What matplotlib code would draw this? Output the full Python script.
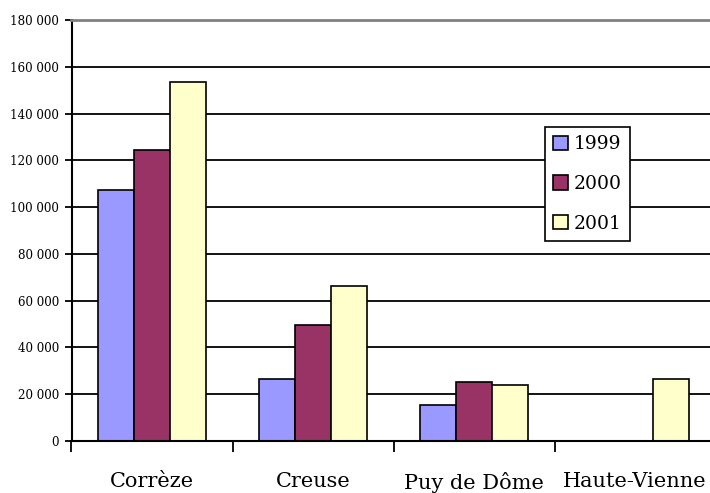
import matplotlib
matplotlib.use('Agg')
import matplotlib.pyplot as plt
import numpy as np

departements = ['Corrèze', 'Creuse', 'Puy de Dôme', 'Haute-Vienne']
annees = ['1999', '2000', '2001']
v1999 = [107300, 26700, 15200, 0]
v2000 = [124500, 49800, 25400, 0]
v2001 = [153600, 66100, 24000, 26500]
couleurs = ['#9999FF', '#993366', '#FFFFCC']

plt.rcParams['font.family'] = ['DejaVu Serif']

fig = plt.figure(figsize=(7.1, 4.93), dpi=100)
ax = fig.add_axes([71.5 / 710, 52 / 493, 644 / 710, 421 / 493])

x = np.arange(len(departements))
w = 0.224
for k, (vals, c, lab) in enumerate(zip([v1999, v2000, v2001], couleurs, annees)):
    vals = np.array(vals, dtype=float)
    keep = vals > 0
    ax.bar(x[keep] + (k - 1) * w, vals[keep], width=w, color=c,
           edgecolor='black', linewidth=1.2, label=lab, zorder=2)

ax.set_xlim(-0.5, 3.5)
ax.set_ylim(0, 180000)
ax.set_yticks(np.arange(0, 180001, 20000))
ax.set_yticklabels([f'{v:,}'.replace(',', ' ') for v in range(0, 180001, 20000)],
                   fontsize=8.6)
ax.yaxis.grid(True, color='black', linewidth=1.3)
ax.set_axisbelow(True)

ax.set_xticks([-0.5, 0.5, 1.5, 2.5, 3.5])
ax.set_xticklabels([])
ax.set_xticks(x, minor=True)
ax.set_xticklabels(departements, minor=True, fontsize=15)
ax.tick_params(axis='x', which='major', length=8, width=1.3)
ax.tick_params(axis='x', which='minor', length=0, pad=22)
ax.tick_params(axis='y', length=5, width=1.3, pad=4)

for s in ['left', 'bottom']:
    ax.spines[s].set_linewidth(1.5)
ax.spines['top'].set_color('#808080')
ax.spines['top'].set_linewidth(2)
ax.spines['right'].set_visible(False)

leg = ax.legend(loc='upper left', bbox_to_anchor=(545 / 710, 1 - 127 / 493),
                bbox_transform=fig.transFigure, borderaxespad=0, fontsize=13.5,
                frameon=True, fancybox=False, framealpha=1, edgecolor='black',
                handlelength=0.78, handleheight=0.78, handletextpad=0.3,
                labelspacing=1.15, borderpad=0.45)
leg.get_frame().set_linewidth(1.2)
leg.set_zorder(5)

fig.savefig('out.png', dpi=100)
